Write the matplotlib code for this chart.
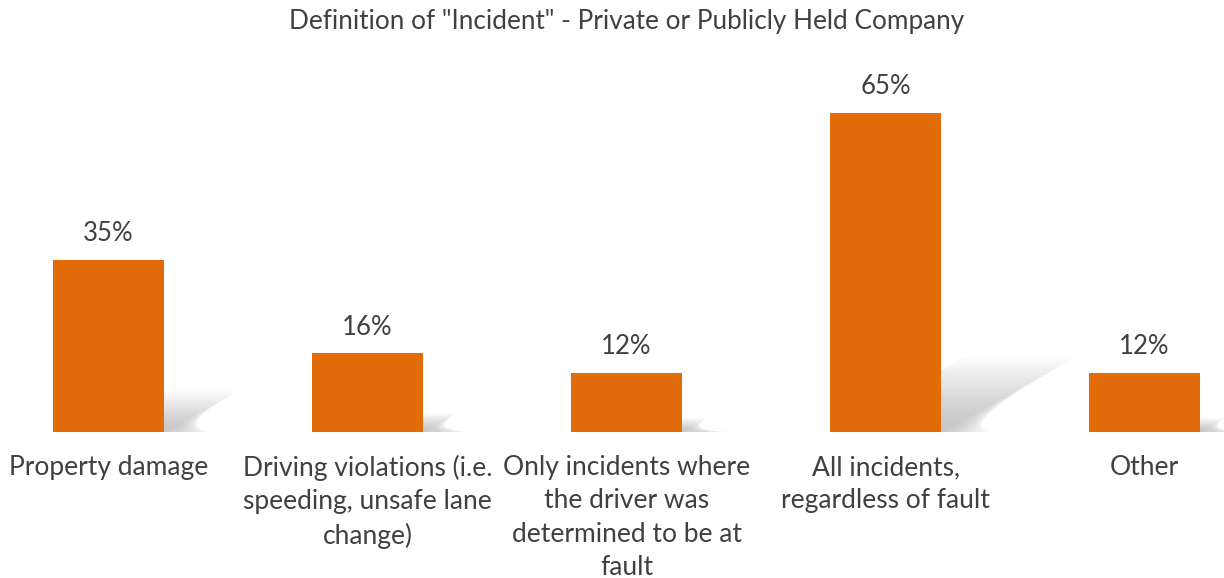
import matplotlib.pyplot as plt
import numpy as np

categories = ['Property damage',
              'Driving violations (i.e.\nspeeding, unsafe lane\nchange)',
              'Only incidents where\nthe driver was\ndetermined to be at\nfault',
              'All incidents,\nregardless of fault',
              'Other']
values = [35, 16, 12, 65, 12]

bar_color = '#E36C0A'
text_color = '#404040'

fig = plt.figure(figsize=(12.24, 5.78), dpi=100)
ax = fig.add_axes([0, 1 - 432 / 578, 1, (432 - 60) / 578])
x = np.arange(len(values))
width = 0.43

# soft skewed shadow behind each bar
n = 20
for xi, v in zip(x, values):
    x0, x1 = xi - width / 2, xi + width / 2
    for k in range(n):
        f = 1 - k * 0.045
        dx = 0.0082 * v * f
        sh = 0.24 * v * f
        ax.fill([x0, x1 + 0.01 * k, x1 + dx, x0 + dx], [0, 0, sh, sh],
                color='#808080', alpha=0.025, lw=0, zorder=1)

ax.bar(x, values, width=width, color=bar_color, zorder=2)
for xi, v in zip(x, values):
    ax.annotate(f'{v}%', (xi, v), xytext=(0, 10), textcoords='offset points',
                ha='center', va='bottom', fontsize=18.5, color=text_color,
                family='Lato')

ax.set_xlim(-108.5 / 259, (1224 - 108.5) / 259)
ax.set_ylim(0, 372 / 4.908)
ax.set_xticks(x)
ax.set_xticklabels(categories, fontsize=19, color=text_color, family='Lato',
                   linespacing=1.42)
ax.tick_params(axis='x', length=0, pad=16.5)
ax.set_yticks([])
for s in ax.spines.values():
    s.set_visible(False)

fig.text(627 / 1224, 1 - 21 / 578, 'Definition of "Incident" - Private or Publicly Held Company',
         ha='center', va='center', fontsize=18.8, color=text_color, family='Lato')

fig.savefig('out.png', dpi=100)
